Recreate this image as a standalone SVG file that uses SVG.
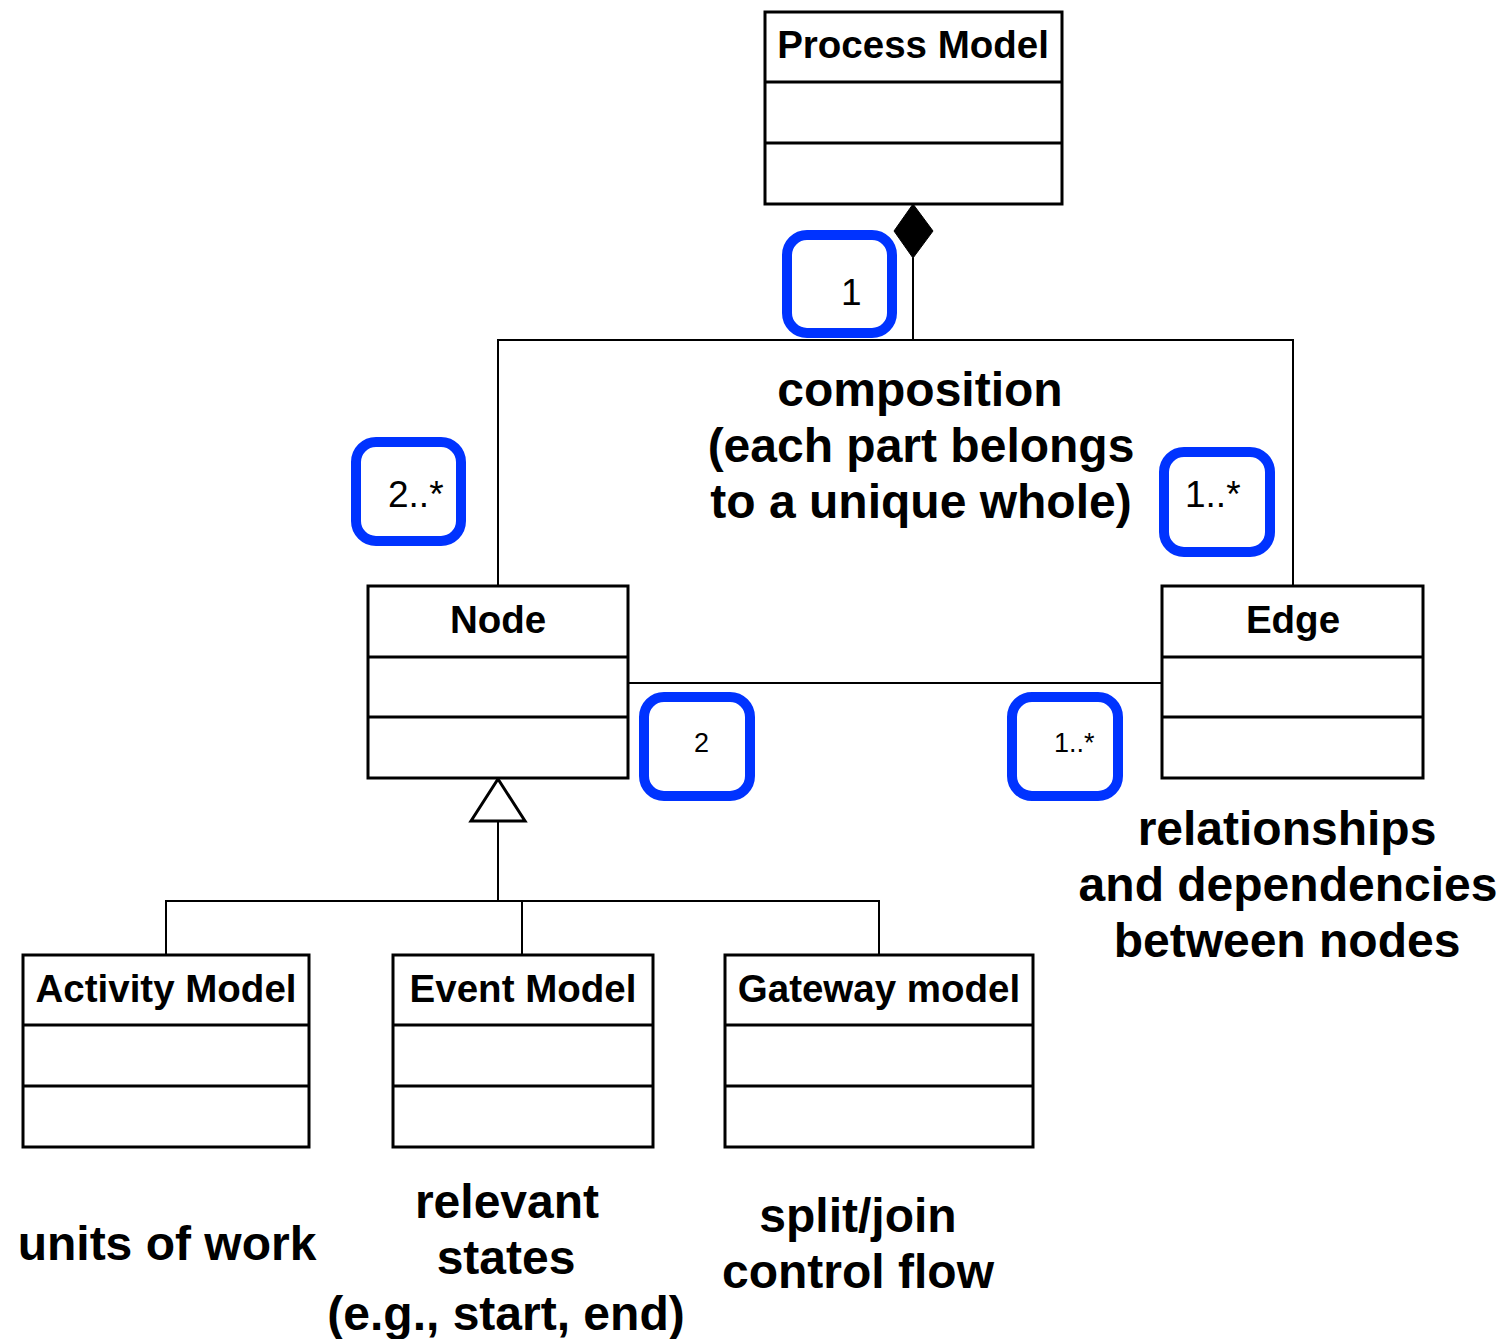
<svg xmlns="http://www.w3.org/2000/svg" width="1503" height="1339" viewBox="0 0 1503 1339">
<style>
.box{fill:#fff;stroke:#000;stroke-width:3}
.div{stroke:#000;stroke-width:3}
.title{font-family:"Liberation Sans",Arial,sans-serif;font-weight:bold;font-size:38.5px;text-anchor:middle;fill:#000}
.conn{fill:none;stroke:#000;stroke-width:2}
.mult{fill:#fff;stroke:#0033ff;stroke-width:10}
.mt{font-family:"Liberation Sans",Arial,sans-serif;font-size:37px;fill:#000}
.ms{font-family:"Liberation Sans",Arial,sans-serif;font-size:27px;fill:#000}
.note{font-family:"Liberation Sans",Arial,sans-serif;font-weight:bold;font-size:48px;text-anchor:middle;fill:#000}
</style>
<rect width="1503" height="1339" fill="#fff"/>
<g id="connectors">
<polyline class="conn" points="913,258 913,340"/>
<polyline class="conn" points="498,586 498,340 1293,340 1293,586"/>
<line class="conn" x1="628" y1="683" x2="1162" y2="683"/>
<line class="conn" x1="498" y1="821" x2="498" y2="901"/>
<polyline class="conn" points="166,955 166,901 879,901 879,955"/>
<line class="conn" x1="522" y1="901" x2="522" y2="955"/>
<polygon points="913,204 933,231 913,258 894,231" fill="#000" stroke="#000" stroke-width="1"/>
<polygon points="498,779 525,821 471,821" fill="#fff" stroke="#000" stroke-width="3"/>
</g>
<g id="process-model">
<rect class="box" x="765" y="12" width="297" height="192"/>
<line class="div" x1="765" y1="82" x2="1062" y2="82"/>
<line class="div" x1="765" y1="143" x2="1062" y2="143"/>
<text class="title" x="913" y="58">Process Model</text>
</g>
<g id="node">
<rect class="box" x="368" y="586" width="260" height="192"/>
<line class="div" x1="368" y1="657" x2="628" y2="657"/>
<line class="div" x1="368" y1="717" x2="628" y2="717"/>
<text class="title" x="498" y="633">Node</text>
</g>
<g id="edge">
<rect class="box" x="1162" y="586" width="261" height="192"/>
<line class="div" x1="1162" y1="657" x2="1423" y2="657"/>
<line class="div" x1="1162" y1="717" x2="1423" y2="717"/>
<text class="title" x="1293" y="633">Edge</text>
</g>
<g id="activity-model">
<rect class="box" x="23" y="955" width="286" height="192"/>
<line class="div" x1="23" y1="1025" x2="309" y2="1025"/>
<line class="div" x1="23" y1="1086" x2="309" y2="1086"/>
<text class="title" x="166" y="1002">Activity Model</text>
</g>
<g id="event-model">
<rect class="box" x="393" y="955" width="260" height="192"/>
<line class="div" x1="393" y1="1025" x2="653" y2="1025"/>
<line class="div" x1="393" y1="1086" x2="653" y2="1086"/>
<text class="title" x="523" y="1002">Event Model</text>
</g>
<g id="gateway-model">
<rect class="box" x="725" y="955" width="308" height="192"/>
<line class="div" x1="725" y1="1025" x2="1033" y2="1025"/>
<line class="div" x1="725" y1="1086" x2="1033" y2="1086"/>
<text class="title" x="879" y="1002">Gateway model</text>
</g>
<g id="mult-1">
<rect class="mult" x="787" y="235" width="105" height="98" rx="20"/>
<text class="mt" x="841" y="305">1</text>
</g>
<g id="mult-2star">
<rect class="mult" x="356" y="442" width="105" height="99" rx="20"/>
<text class="mt" x="388" y="507">2..*</text>
</g>
<g id="mult-1star-top">
<rect class="mult" x="1164" y="452" width="106" height="100" rx="20"/>
<text class="mt" x="1185" y="507">1..*</text>
</g>
<g id="mult-2">
<rect class="mult" x="644" y="697" width="106" height="99" rx="20"/>
<text class="ms" x="694" y="752">2</text>
</g>
<g id="mult-1star-bottom">
<rect class="mult" x="1012" y="697" width="106" height="99" rx="20"/>
<text class="ms" x="1054" y="752">1..*</text>
</g>
<g id="labels">
<text class="note" x="920" y="406">composition</text>
<text class="note" x="921" y="462">(each part belongs</text>
<text class="note" x="921" y="518">to a unique whole)</text>
<text class="note" x="1287" y="845">relationships</text>
<text class="note" x="1288" y="901">and dependencies</text>
<text class="note" x="1287" y="957">between nodes</text>
<text class="note" x="167" y="1260">units of work</text>
<text class="note" x="507" y="1218">relevant</text>
<text class="note" x="506" y="1274">states</text>
<text class="note" x="506" y="1330">(e.g., start, end)</text>
<text class="note" x="858" y="1232">split/join</text>
<text class="note" x="858" y="1288">control flow</text>
</g>
</svg>
